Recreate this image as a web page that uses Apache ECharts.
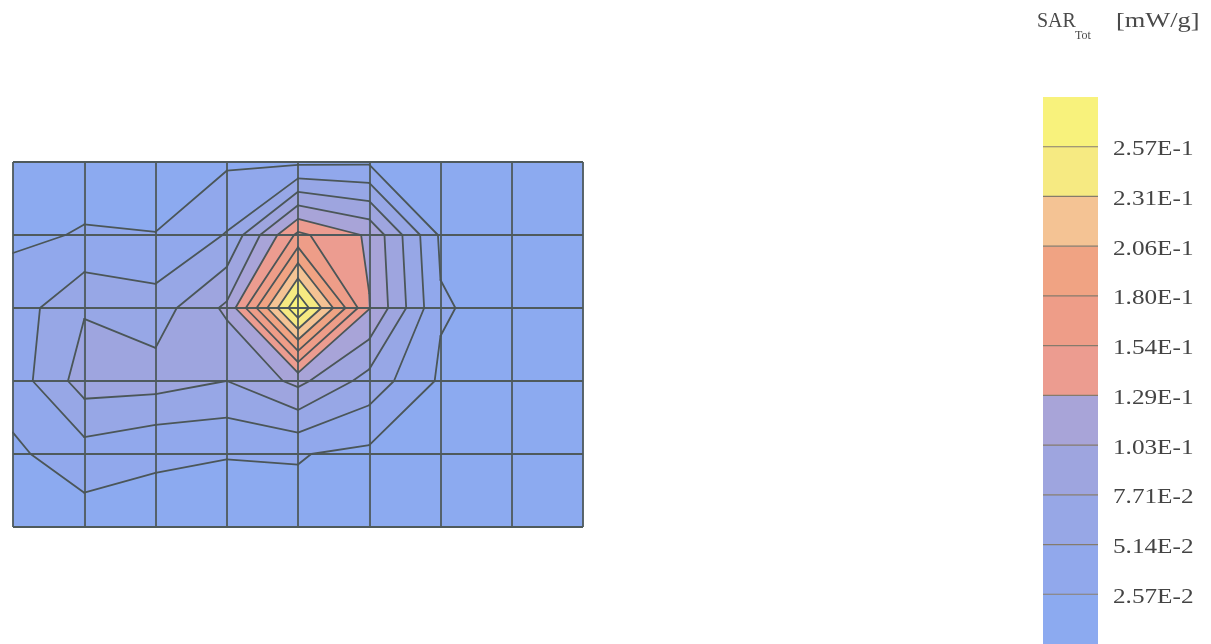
<!DOCTYPE html>
<html>
<head>
<meta charset="utf-8">
<script src="https://cdn.jsdelivr.net/npm/echarts@6/dist/echarts.min.js"></script>
<style>
  html, body { margin: 0; padding: 0; background: #ffffff; }
  #chart { width: 1211px; height: 644px; }
</style>
</head>
<body>
<div id="chart"></div>
<script>
// SAR_Tot [mW/g] at the measurement nodes, rows top to bottom, columns left to right
const row0 = [0.018, 0.018, 0.019, 0.022, 0.020, 0.022, 0.016, 0.015, 0.015];
const row1 = [0.022, 0.027, 0.026, 0.053, 0.160, 0.125, 0.022, 0.016, 0.015];
const row2 = [0.037, 0.075, 0.064, 0.108, 0.280, 0.130, 0.028, 0.017, 0.015];
const row3 = [0.037, 0.089, 0.088, 0.077, 0.110, 0.067, 0.022, 0.016, 0.015];
const row4 = [0.021, 0.040, 0.027, 0.026, 0.027, 0.020, 0.016, 0.015, 0.015];
const row5 = [0.015, 0.013, 0.022, 0.022, 0.018, 0.018, 0.015, 0.015, 0.015];

// contour levels, as printed on the colour scale
const levelLabels = ['2.57E-2', '5.14E-2', '7.71E-2', '1.03E-1', '1.29E-1',
                     '1.54E-1', '1.80E-1', '2.06E-1', '2.31E-1', '2.57E-1'];

// fill colour of each band, lowest band first
const bandColors = ['#8caaf0', '#91a8ec', '#97a7e6', '#9ea5df', '#a8a4d8',
                    '#ec9c90', '#ee9d88', '#f0a383', '#f4c394', '#f6ea82', '#f8f27c'];

const nodeRows = [row0, row1, row2, row3, row4, row5];
const levels = levelLabels.map(Number);
const nCols = row0.length - 1;
const nRows = nodeRows.length - 1;

const cells = [];
for (let j = 0; j < nRows; j++) {
  for (let i = 0; i < nCols; i++) cells.push([i, j]);
}
const bands = bandColors.map((c, k) => [0, k]);

// corners of a cell, clockwise on screen: [x, y, value]
function cellCorners(i, j) {
  return [
    [i, j, nodeRows[j][i]],
    [i + 1, j, nodeRows[j][i + 1]],
    [i + 1, j + 1, nodeRows[j + 1][i + 1]],
    [i, j + 1, nodeRows[j + 1][i]]
  ];
}

// walk the cell border: part of the cell at or above level L, plus the crossings
function walkCell(corners, L) {
  const poly = [];
  const cross = [];
  for (let n = 0; n < 4; n++) {
    const p = corners[n], q = corners[(n + 1) % 4];
    const pin = p[2] >= L, qin = q[2] >= L;
    if (pin) poly.push([p[0], p[1]]);
    if (pin !== qin) {
      const t = (L - p[2]) / (q[2] - p[2]);
      const pt = [p[0] + t * (q[0] - p[0]), p[1] + t * (q[1] - p[1])];
      poly.push(pt);
      cross.push({ pt: pt, exit: pin });
    }
  }
  return { poly: poly, cross: cross };
}

function renderFill(params, api) {
  const corners = cellCorners(api.value(0), api.value(1));
  const children = [];
  for (let k = 0; k <= levels.length; k++) {
    const L = k === 0 ? -Infinity : levels[k - 1];
    const poly = walkCell(corners, L).poly;
    if (poly.length < 3) continue;
    children.push({
      type: 'polygon',
      shape: { points: poly.map(p => api.coord(p)) },
      style: { fill: bandColors[k], stroke: bandColors[k], lineWidth: 0.6 }
    });
  }
  return { type: 'group', children: children };
}

function renderContours(params, api) {
  const corners = cellCorners(api.value(0), api.value(1));
  const children = [];
  levels.forEach(L => {
    const cross = walkCell(corners, L).cross;
    if (cross.length < 2) return;
    const s = cross.findIndex(c => c.exit);
    for (let m = 0; m < cross.length; m += 2) {
      const a = api.coord(cross[(s + m) % cross.length].pt);
      const b = api.coord(cross[(s + m + 1) % cross.length].pt);
      children.push({
        type: 'line',
        shape: { x1: a[0], y1: a[1], x2: b[0], y2: b[1] },
        style: { stroke: '#4b5658', lineWidth: 1.8, lineCap: 'round' }
      });
    }
  });
  return { type: 'group', children: children };
}

function renderScale(params, api) {
  const k = api.value(1);
  const lo = api.coord([0, k]);
  const hi = api.coord([1, k + 1]);
  const children = [{
    type: 'rect',
    shape: { x: lo[0], y: hi[1], width: hi[0] - lo[0], height: lo[1] - hi[1] },
    style: { fill: bandColors[k] }
  }];
  if (k > 0) {
    children.push({
      type: 'line',
      shape: { x1: lo[0], y1: lo[1], x2: hi[0], y2: lo[1] },
      style: { stroke: '#857b6c', lineWidth: 1.2 }
    });
    children.push({
      type: 'text',
      x: hi[0] + 15, y: lo[1] + 3,
      scaleX: 1.2,
      style: {
        text: levelLabels[k - 1], fill: '#444444',
        font: '21px "Liberation Serif"', align: 'left', verticalAlign: 'middle'
      }
    });
  }
  return { type: 'group', children: children };
}

const chart = echarts.init(document.getElementById('chart'), null, { renderer: 'canvas' });
chart.setOption({
  animation: false,
  backgroundColor: '#ffffff',
  grid: [
    { left: 13, top: 162, width: 570, height: 365 },
    { left: 1043, top: 97, width: 55, height: 547 }
  ],
  xAxis: [
    {
      type: 'value', gridIndex: 0, min: 0, max: nCols, interval: 1, z: 3,
      axisLine: { show: false }, axisTick: { show: false }, axisLabel: { show: false },
      splitLine: { show: true, lineStyle: { color: '#4f5a5c', width: 1.8 } }
    },
    { type: 'value', gridIndex: 1, min: 0, max: 1, show: false }
  ],
  yAxis: [
    {
      type: 'value', gridIndex: 0, min: 0, max: nRows, interval: 1, inverse: true, z: 3,
      axisLine: { show: false }, axisTick: { show: false }, axisLabel: { show: false },
      splitLine: { show: true, lineStyle: { color: '#4f5a5c', width: 1.8 } }
    },
    { type: 'value', gridIndex: 1, min: 0, max: bandColors.length, show: false }
  ],
  graphic: [
    { type: 'text', x: 1037, y: 22, style: { text: 'SAR', fill: '#4a4a4a', font: '20px "Liberation Serif"', verticalAlign: 'middle' } },
    { type: 'text', x: 1075, y: 36, style: { text: 'Tot', fill: '#4a4a4a', font: '12px "Liberation Serif"', verticalAlign: 'middle' } },
    { type: 'text', x: 1116, y: 22, scaleX: 1.32, style: { text: '[mW/g]', fill: '#4a4a4a', font: '20px "Liberation Serif"', verticalAlign: 'middle' } }
  ],
  series: [
    {
      type: 'custom', name: 'fill', xAxisIndex: 0, yAxisIndex: 0, z: 1,
      renderItem: renderFill, data: cells, silent: true
    },
    {
      type: 'custom', name: 'contours', xAxisIndex: 0, yAxisIndex: 0, z: 5,
      renderItem: renderContours, data: cells, silent: true
    },
    {
      type: 'custom', name: 'scale', xAxisIndex: 1, yAxisIndex: 1, z: 2,
      renderItem: renderScale, data: bands, silent: true
    }
  ]
});
</script>
</body>
</html>
